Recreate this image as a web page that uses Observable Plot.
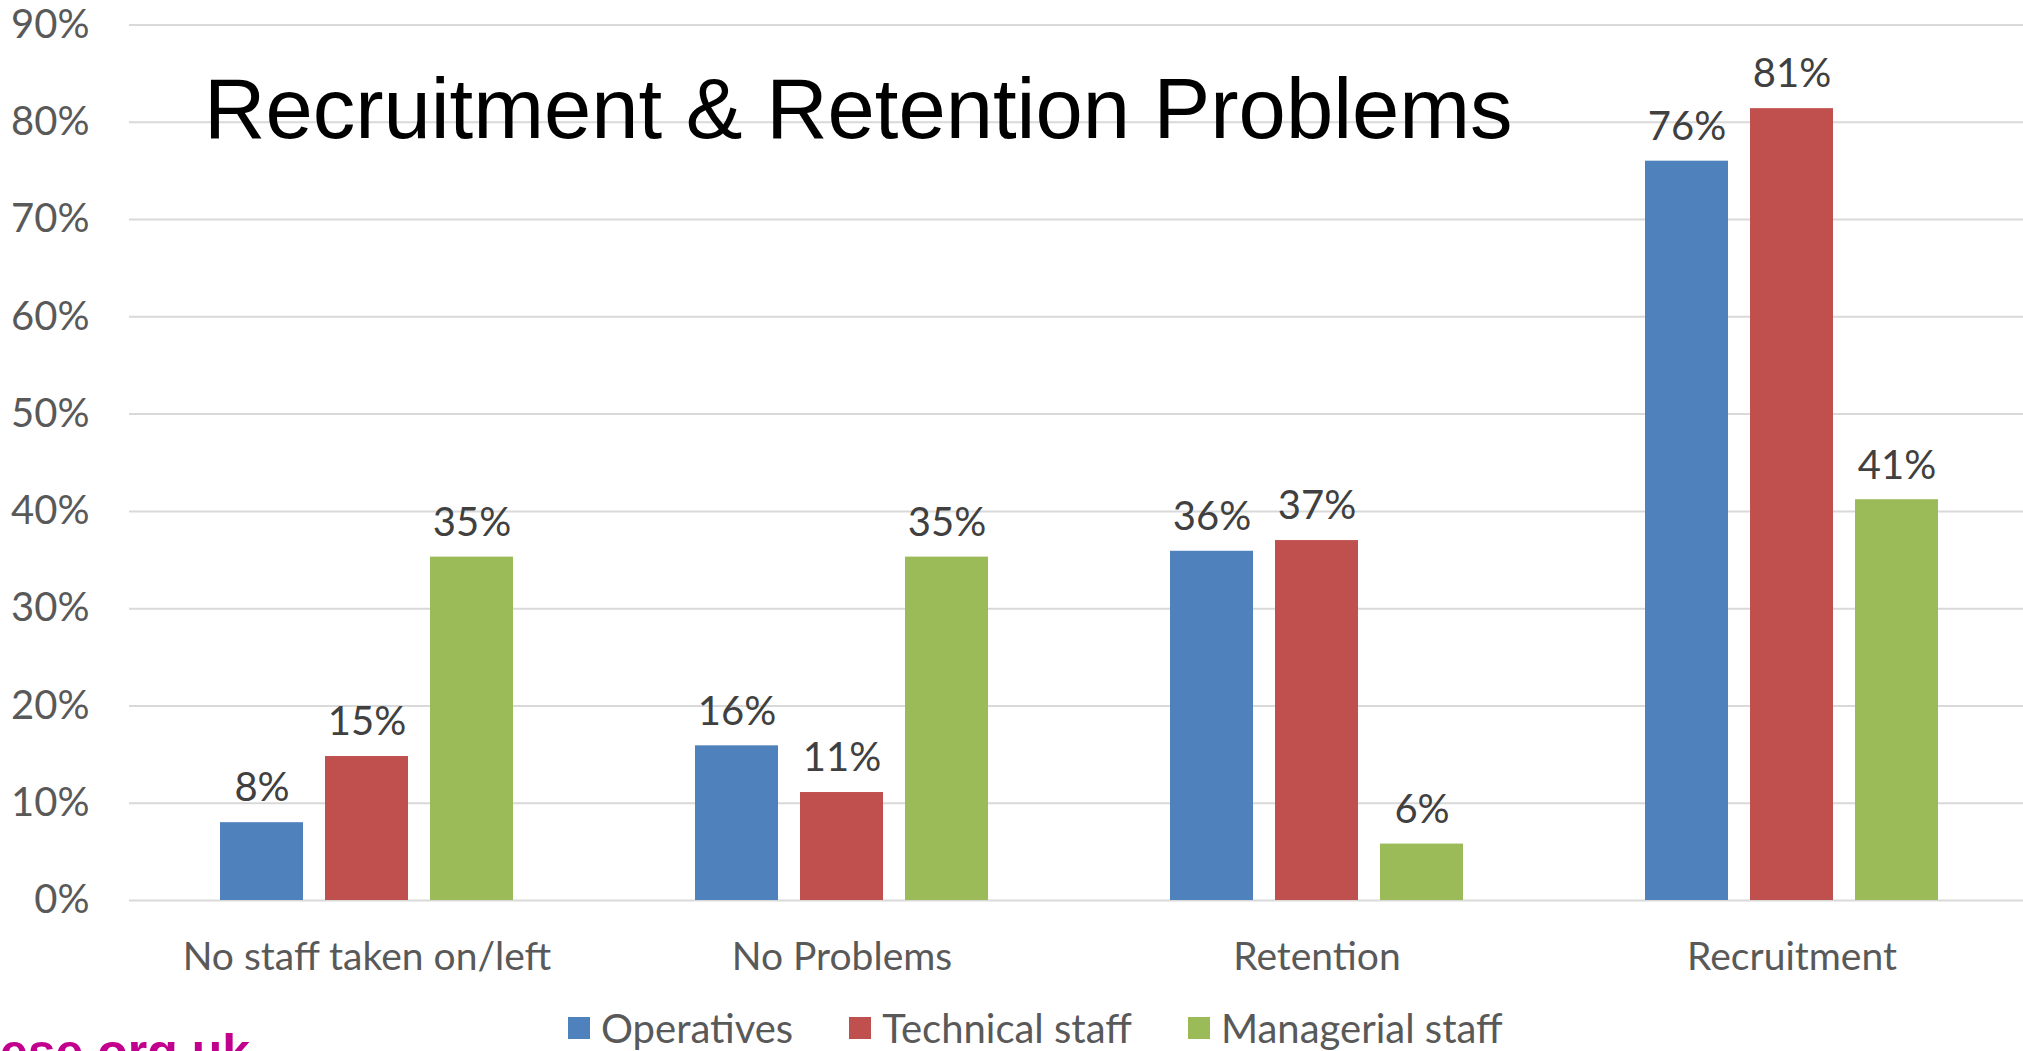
<!DOCTYPE html>
<html>
<head>
<meta charset="utf-8">
<script src="https://cdn.jsdelivr.net/npm/d3@7"></script>
<script src="https://cdn.jsdelivr.net/npm/@observablehq/plot@0.6"></script>
<style>
  html, body { margin: 0; padding: 0; background: #fff; overflow: hidden; }
  #wrap { position: relative; width: 2023px; height: 1051px; overflow: hidden; background: #fff; }
  #chart { position: absolute; left: 0; top: 0; width: 2030px; }
  #chart svg { max-width: none !important; }
  #title { position: absolute; left: 204px; top: 66px; font-family: "Liberation Sans", Arial, sans-serif; font-size: 85px; line-height: 1; color: #000; white-space: nowrap; }
  #legend { position: absolute; left: 568px; top: 1008px; display: flex; align-items: center; font-family: Lato, sans-serif; font-size: 40px; line-height: 40px; color: #595959; white-space: nowrap; }
  #legend .item { display: flex; align-items: center; margin-right: 56px; }
  #legend .sw { width: 22px; height: 22px; margin-right: 11px; display: inline-block; }
  #site { position: absolute; left: 0; top: 1027px; font-family: "Liberation Sans", Arial, sans-serif; font-weight: bold; font-size: 50px; line-height: 1; color: #C2008E; white-space: nowrap; }
</style>
</head>
<body>
<div id="wrap">
  <div id="chart"></div>
  <div id="title"></div>
  <div id="legend"></div>
  <div id="site"></div>
</div>
<script>
// ---- data ----
const categories = ["No staff taken on/left", "No Problems", "Retention", "Recruitment"];
const series = ["Operatives", "Technical staff", "Managerial staff"];
const operatives = [8, 15.9, 35.9, 76];
const technical = [14.8, 11.1, 37, 81.4];
const managerial = [35.3, 35.3, 5.8, 41.2];
const colors = ["#4F81BD", "#C0504D", "#9BBB59"];
const yTicks = [0, 10, 20, 30, 40, 50, 60, 70, 80, 90];
const titleText = "Recruitment & Retention Problems";
const siteText = "ese.org.uk";

const seriesValues = [operatives, technical, managerial];
const rows = [];
categories.forEach((c, i) => {
  series.forEach((s, j) => rows.push({category: c, series: s, value: seriesValues[j][i]}));
});

const plot = Plot.plot({
  width: 2030,
  height: 1000,
  marginLeft: 128,
  marginRight: 0,
  marginTop: 24.5,
  marginBottom: 100,
  style: {fontFamily: "Lato, sans-serif", fontSize: "39px", background: "transparent", overflow: "visible", maxWidth: "none"},
  fx: {domain: categories, paddingInner: 0, paddingOuter: 0, label: null},
  x: {domain: series, paddingInner: 0.213, paddingOuter: 0.86, axis: null},
  y: {domain: [0, 90], label: null},
  color: {domain: series, range: colors},
  marks: [
    Plot.gridY(yTicks, {stroke: "#d9d9d9", strokeOpacity: 1, strokeWidth: 2}),
    Plot.axisY(yTicks, {tickFormat: d => d + "%", tickSize: 0, tickPadding: 40, fontSize: 40, fill: "#595959", label: null}),
    Plot.axisFx({anchor: "bottom", tickSize: 0, tickPadding: 42, fontSize: 39, fill: "#595959", label: null}),
    Plot.barY(rows, {fx: "category", x: "series", y: "value", fill: "series"}),
    Plot.text(rows, {fx: "category", x: "series", y: "value", text: d => Math.round(d.value) + "%", dy: -34, fill: "#404040", fontSize: 40})
  ]
});
plot.style.maxWidth = "none";
document.getElementById("chart").appendChild(plot);

document.getElementById("title").textContent = titleText;
document.getElementById("site").textContent = siteText;
const leg = document.getElementById("legend");
series.forEach((s, i) => {
  const item = document.createElement("span");
  item.className = "item";
  const sw = document.createElement("span");
  sw.className = "sw";
  sw.style.background = colors[i];
  const t = document.createElement("span");
  t.textContent = s;
  item.appendChild(sw);
  item.appendChild(t);
  leg.appendChild(item);
});
</script>
</body>
</html>
